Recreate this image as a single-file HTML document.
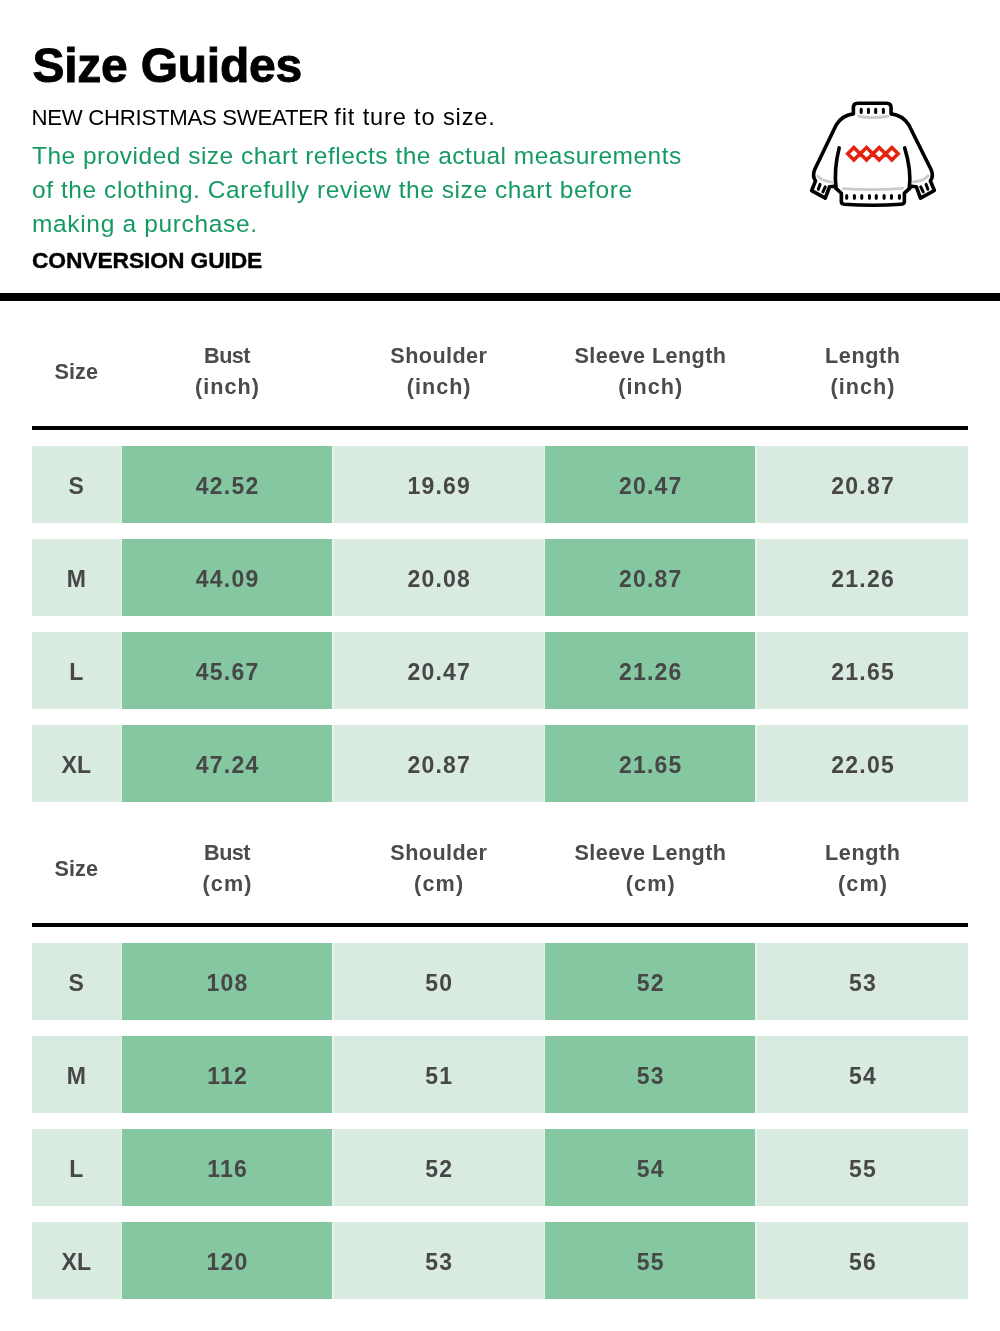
<!DOCTYPE html>
<html><head><meta charset="utf-8"><title>Size Guides</title>
<style>
html,body{margin:0;padding:0;background:#fff}
body{width:1000px;height:1331px;position:relative;overflow:hidden;font-family:"Liberation Sans",sans-serif;color:#000}
.abs{position:absolute;white-space:nowrap}
h1{-webkit-text-stroke:0.9px #000;position:absolute;margin:0;left:32.5px;top:38.5px;font-size:48px;line-height:54px;letter-spacing:-0.25px;font-weight:bold;white-space:nowrap}
.sub{left:31.5px;top:103px;font-size:22.2px;line-height:28px}
.grn{left:33px;font-size:24.5px;line-height:34px;color:#159a63}
.cg{-webkit-text-stroke:0.4px #000;left:32px;top:246.3px;font-size:22.8px;line-height:28px;font-weight:bold;letter-spacing:-0.1px}
.bar{position:absolute;left:0;top:293px;width:1000px;height:8px;background:#000}
.ln{position:absolute;left:32px;width:936px;height:4px;background:#000}
.hd{position:absolute;text-align:center;font-size:21.6px;line-height:31px;font-weight:bold;color:#4b4b4b;white-space:nowrap}
.row{position:absolute;left:32px;width:936px;height:77px;background:#e8f2ec}
.c{position:absolute;top:0;height:77px;line-height:80px;overflow:hidden;text-align:center;font-size:23px;font-weight:bold;color:#474747;white-space:nowrap}
.l{background:#d9ebe1}.d{background:#84c7a0}
</style></head><body>
<h1>Size Guides</h1>
<div class="abs sub"><span style="letter-spacing:-0.28px">NEW CHRISTMAS SWEATER </span><span style="font-size:23.6px;letter-spacing:0.85px">fit ture to size.</span></div>
<div class="abs grn" style="top:138.7px;left:32px;letter-spacing:0.49px">The provided size chart reflects the actual measurements</div>
<div class="abs grn" style="top:172.7px;left:32px;letter-spacing:0.57px">of the clothing. Carefully review the size chart before</div>
<div class="abs grn" style="top:207px;left:32px;letter-spacing:0.66px">making a purchase.</div>
<div class="abs cg">CONVERSION GUIDE</div>
<svg class="abs" style="left:800px;top:95px" width="145" height="120" viewBox="0 0 1000 828" fill="none" stroke-linecap="round" stroke-linejoin="round">
<path d="M398 57 L598 57 Q628 57 628 87 L628 130 Q705 138 750 205 L903 512 Q925 560 899 592 L927 659 L831 712 L802 633 L768 630 L754 646 L720 677 L720 735 Q720 752 698 754 Q500 768 305 754 Q285 752 285 735 L285 678 L249 644 L237 630 L204 633 L174 712 L80 660 L107 592 Q82 560 102 512 L250 205 Q295 138 368 130 L368 87 Q368 57 398 57 Z" fill="#fff" stroke="#000" stroke-width="25"/>
<path d="M270 365 Q232 520 249 644 M722 365 Q770 520 754 646" stroke="#000" stroke-width="25"/>
<g stroke="#cbcbcb" stroke-width="19">
<path d="M404 148 Q500 164 606 148"/>
<path d="M300 646 Q500 660 708 644"/>
<path d="M122 560 Q150 594 226 602"/>
<path d="M884 557 Q852 594 782 600"/>
</g>
<g stroke="#000" stroke-width="21">
<path d="M422 99V120 M472 99V120 M522 99V120 M575 99V120"/>
<path d="M322 693V712 M375 693V712 M426 693V712 M479 693V712 M526 693V712 M580 693V712 M631 693V712 M686 693V712"/>
<path d="M138 617L126 651 M174 634L158 668 M870 617L882 651 M833 634L850 668"/>
</g>
<g stroke="#e5220d" stroke-width="24" stroke-linejoin="miter" stroke-linecap="butt">
<path d="M371.4 362.2L414.4 405.2L371.4 448.2L328.4 405.2Z M458.8 362.2L501.8 405.2L458.8 448.2L415.8 405.2Z M546.3 362.2L589.3 405.2L546.3 448.2L503.29999999999995 405.2Z M633.8 362.2L676.8 405.2L633.8 448.2L590.8 405.2Z"/>
</g>
</svg>

<div class="bar"></div>
<div class="hd" style="left:32px;width:88.5px;top:356px"><span style="letter-spacing:0.07px;margin-right:-0.07px">Size</span></div>
<div class="hd" style="left:122px;width:210px;top:340px"><span style="letter-spacing:-0.55px;margin-right:--0.55px">Bust</span><br><span style="letter-spacing:1.0px;margin-right:-1.0px">(inch)</span></div>
<div class="hd" style="left:333.5px;width:210.29999999999995px;top:340px"><span style="letter-spacing:0.43px;margin-right:-0.43px">Shoulder</span><br><span style="letter-spacing:1.0px;margin-right:-1.0px">(inch)</span></div>
<div class="hd" style="left:545.2px;width:210.0999999999999px;top:340px"><span style="letter-spacing:0.43px;margin-right:-0.43px">Sleeve Length</span><br><span style="letter-spacing:1.0px;margin-right:-1.0px">(inch)</span></div>
<div class="hd" style="left:757px;width:211px;top:340px"><span style="letter-spacing:0.56px;margin-right:-0.56px">Length</span><br><span style="letter-spacing:1.0px;margin-right:-1.0px">(inch)</span></div>
<div class="ln" style="top:426px"></div>
<div class="row" style="top:446px">
<div class="c l" style="left:0px;width:88.5px"><span style="letter-spacing:0.3px;margin-right:-0.3px">S</span></div>
<div class="c d" style="left:90px;width:210px"><span style="letter-spacing:1.2px;margin-right:-1.2px">42.52</span></div>
<div class="c l" style="left:301.5px;width:210.29999999999995px"><span style="letter-spacing:1.2px;margin-right:-1.2px">19.69</span></div>
<div class="c d" style="left:513.2px;width:210.0999999999999px"><span style="letter-spacing:1.2px;margin-right:-1.2px">20.47</span></div>
<div class="c l" style="left:725px;width:211px"><span style="letter-spacing:1.2px;margin-right:-1.2px">20.87</span></div>
</div>
<div class="row" style="top:539px">
<div class="c l" style="left:0px;width:88.5px"><span style="letter-spacing:0.3px;margin-right:-0.3px">M</span></div>
<div class="c d" style="left:90px;width:210px"><span style="letter-spacing:1.2px;margin-right:-1.2px">44.09</span></div>
<div class="c l" style="left:301.5px;width:210.29999999999995px"><span style="letter-spacing:1.2px;margin-right:-1.2px">20.08</span></div>
<div class="c d" style="left:513.2px;width:210.0999999999999px"><span style="letter-spacing:1.2px;margin-right:-1.2px">20.87</span></div>
<div class="c l" style="left:725px;width:211px"><span style="letter-spacing:1.2px;margin-right:-1.2px">21.26</span></div>
</div>
<div class="row" style="top:632px">
<div class="c l" style="left:0px;width:88.5px"><span style="letter-spacing:0.3px;margin-right:-0.3px">L</span></div>
<div class="c d" style="left:90px;width:210px"><span style="letter-spacing:1.2px;margin-right:-1.2px">45.67</span></div>
<div class="c l" style="left:301.5px;width:210.29999999999995px"><span style="letter-spacing:1.2px;margin-right:-1.2px">20.47</span></div>
<div class="c d" style="left:513.2px;width:210.0999999999999px"><span style="letter-spacing:1.2px;margin-right:-1.2px">21.26</span></div>
<div class="c l" style="left:725px;width:211px"><span style="letter-spacing:1.2px;margin-right:-1.2px">21.65</span></div>
</div>
<div class="row" style="top:725px">
<div class="c l" style="left:0px;width:88.5px"><span style="letter-spacing:0.3px;margin-right:-0.3px">XL</span></div>
<div class="c d" style="left:90px;width:210px"><span style="letter-spacing:1.2px;margin-right:-1.2px">47.24</span></div>
<div class="c l" style="left:301.5px;width:210.29999999999995px"><span style="letter-spacing:1.2px;margin-right:-1.2px">20.87</span></div>
<div class="c d" style="left:513.2px;width:210.0999999999999px"><span style="letter-spacing:1.2px;margin-right:-1.2px">21.65</span></div>
<div class="c l" style="left:725px;width:211px"><span style="letter-spacing:1.2px;margin-right:-1.2px">22.05</span></div>
</div>
<div class="hd" style="left:32px;width:88.5px;top:853px"><span style="letter-spacing:0.07px;margin-right:-0.07px">Size</span></div>
<div class="hd" style="left:122px;width:210px;top:837px"><span style="letter-spacing:-0.55px;margin-right:--0.55px">Bust</span><br><span style="letter-spacing:1.17px;margin-right:-1.17px">(cm)</span></div>
<div class="hd" style="left:333.5px;width:210.29999999999995px;top:837px"><span style="letter-spacing:0.43px;margin-right:-0.43px">Shoulder</span><br><span style="letter-spacing:1.17px;margin-right:-1.17px">(cm)</span></div>
<div class="hd" style="left:545.2px;width:210.0999999999999px;top:837px"><span style="letter-spacing:0.43px;margin-right:-0.43px">Sleeve Length</span><br><span style="letter-spacing:1.17px;margin-right:-1.17px">(cm)</span></div>
<div class="hd" style="left:757px;width:211px;top:837px"><span style="letter-spacing:0.56px;margin-right:-0.56px">Length</span><br><span style="letter-spacing:1.17px;margin-right:-1.17px">(cm)</span></div>
<div class="ln" style="top:923px"></div>
<div class="row" style="top:943px">
<div class="c l" style="left:0px;width:88.5px"><span style="letter-spacing:0.3px;margin-right:-0.3px">S</span></div>
<div class="c d" style="left:90px;width:210px"><span style="letter-spacing:1.2px;margin-right:-1.2px">108</span></div>
<div class="c l" style="left:301.5px;width:210.29999999999995px"><span style="letter-spacing:1.2px;margin-right:-1.2px">50</span></div>
<div class="c d" style="left:513.2px;width:210.0999999999999px"><span style="letter-spacing:1.2px;margin-right:-1.2px">52</span></div>
<div class="c l" style="left:725px;width:211px"><span style="letter-spacing:1.2px;margin-right:-1.2px">53</span></div>
</div>
<div class="row" style="top:1036px">
<div class="c l" style="left:0px;width:88.5px"><span style="letter-spacing:0.3px;margin-right:-0.3px">M</span></div>
<div class="c d" style="left:90px;width:210px"><span style="letter-spacing:1.2px;margin-right:-1.2px">112</span></div>
<div class="c l" style="left:301.5px;width:210.29999999999995px"><span style="letter-spacing:1.2px;margin-right:-1.2px">51</span></div>
<div class="c d" style="left:513.2px;width:210.0999999999999px"><span style="letter-spacing:1.2px;margin-right:-1.2px">53</span></div>
<div class="c l" style="left:725px;width:211px"><span style="letter-spacing:1.2px;margin-right:-1.2px">54</span></div>
</div>
<div class="row" style="top:1129px">
<div class="c l" style="left:0px;width:88.5px"><span style="letter-spacing:0.3px;margin-right:-0.3px">L</span></div>
<div class="c d" style="left:90px;width:210px"><span style="letter-spacing:1.2px;margin-right:-1.2px">116</span></div>
<div class="c l" style="left:301.5px;width:210.29999999999995px"><span style="letter-spacing:1.2px;margin-right:-1.2px">52</span></div>
<div class="c d" style="left:513.2px;width:210.0999999999999px"><span style="letter-spacing:1.2px;margin-right:-1.2px">54</span></div>
<div class="c l" style="left:725px;width:211px"><span style="letter-spacing:1.2px;margin-right:-1.2px">55</span></div>
</div>
<div class="row" style="top:1222px">
<div class="c l" style="left:0px;width:88.5px"><span style="letter-spacing:0.3px;margin-right:-0.3px">XL</span></div>
<div class="c d" style="left:90px;width:210px"><span style="letter-spacing:1.2px;margin-right:-1.2px">120</span></div>
<div class="c l" style="left:301.5px;width:210.29999999999995px"><span style="letter-spacing:1.2px;margin-right:-1.2px">53</span></div>
<div class="c d" style="left:513.2px;width:210.0999999999999px"><span style="letter-spacing:1.2px;margin-right:-1.2px">55</span></div>
<div class="c l" style="left:725px;width:211px"><span style="letter-spacing:1.2px;margin-right:-1.2px">56</span></div>
</div>
</body></html>
